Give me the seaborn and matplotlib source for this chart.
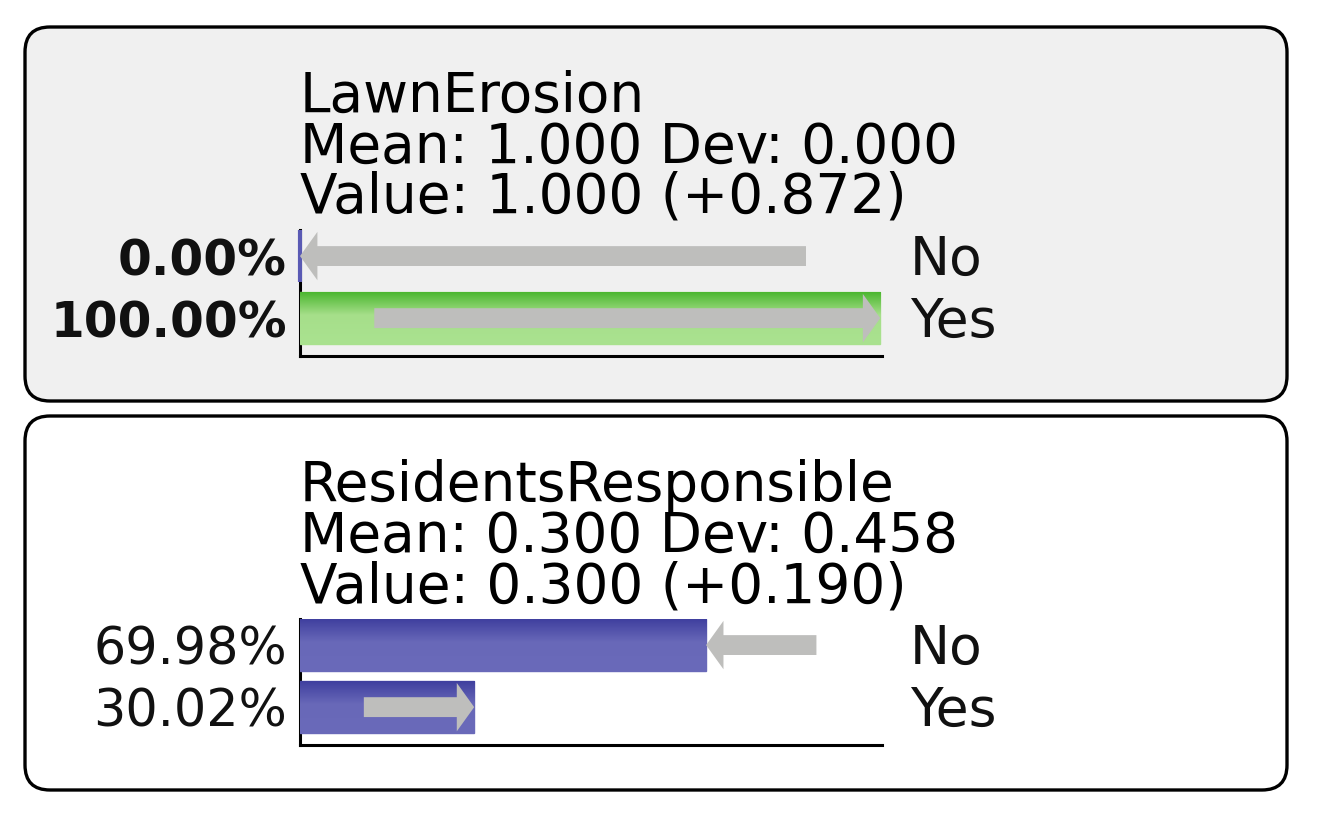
import numpy as np
import pandas as pd
import matplotlib
matplotlib.use("Agg")
import matplotlib.pyplot as plt
from matplotlib.patches import FancyBboxPatch
from matplotlib.colors import LinearSegmentedColormap
import seaborn as sns

# node data
node_names = ["LawnErosion", "ResidentsResponsible"]
states = ["No", "Yes"]
probs = [[0.0, 1.0], [0.6998, 0.3002]]
prev_probs = [[0.872, 0.128], [0.890, 0.110]]
means = [1.000, 0.300]
devs = [0.000, 0.458]
values = [1.000, 0.300]
deltas = [0.872, 0.190]
evidence_state = ["Yes", None]

W, H, DPI = 1317, 817, 100

green = LinearSegmentedColormap.from_list(
    "g", [(0, "#48b52c"), (0.45, "#a6df8a"), (1, "#aae290")])
blue = LinearSegmentedColormap.from_list(
    "b", [(0, "#3e3e9e"), (0.45, "#6868b8"), (1, "#6a6aba")])


def fx(x):
    return x / W


def fy(y):
    return 1 - y / H


def gradient_bars(ax, cmaps):
    grad = np.linspace(0, 1, 100).reshape(-1, 1)
    for p, cmap in zip(ax.patches, cmaps):
        x0, y0 = p.get_x(), p.get_y()
        w, h = p.get_width(), p.get_height()
        p.set_facecolor(cmap(0.6))
        if w < 0.005:
            # empty state still gets a thin stub
            p.set_linewidth(3)
            p.set_edgecolor("#5a5ab4")
            p.set_clip_on(False)
            continue
        p.set_edgecolor(cmap(0.8))
        im = ax.imshow(grad, cmap=cmap, aspect="auto", extent=(x0, x0 + w, y0 + h, y0),
                       zorder=3.1, interpolation="bilinear")
        im.set_clip_path(p)


def draw_node(fig, k, box_top, box_fill):
    box = FancyBboxPatch((0.25, (H - box_top - 374) / DPI), 12.62, 3.74,
                         boxstyle="round,pad=0,rounding_size=0.25",
                         transform=fig.dpi_scale_trans, facecolor=box_fill,
                         edgecolor="black", linewidth=2.4, zorder=0)
    fig.add_artist(box)

    lines = [node_names[k],
             f"Mean: {means[k]:.3f} Dev: {devs[k]:.3f}",
             f"Value: {values[k]:.3f} (+{deltas[k]:.3f})"]
    for j, t in enumerate(lines):
        fig.text(fx(300), fy(box_top + 85 + 50.5 * j), t, fontsize=39.5,
                 ha="left", va="baseline", color="black")

    ax_top = box_top + 203
    ax = fig.add_axes([fx(300), fy(ax_top + 126), fx(582), 126 / H])
    df = pd.DataFrame({"state": states, "prob": probs[k]})
    sns.barplot(data=df, x="prob", y="state", orient="h", ax=ax, width=0.84,
                color="#6868b8", linewidth=1, zorder=3)
    cmaps = [green if st == evidence_state[k] else blue for st in states]
    gradient_bars(ax, cmaps)

    ax.set_xlim(0, 1.003)
    ax.set_ylim(1.61, -0.42)
    ax.set_facecolor("none")
    ax.set_xticks([])
    ax.set_yticks([])
    ax.set_xlabel("")
    ax.set_ylabel("")
    for s in ["top", "right"]:
        ax.spines[s].set_visible(False)
    for s in ["left", "bottom"]:
        ax.spines[s].set_linewidth(2.2)
        ax.spines[s].set_color("black")

    # change arrows (previous -> current belief)
    for i in range(len(states)):
        start, end = prev_probs[k][i], probs[k][i]
        ax.arrow(start, i, end - start, 0, width=0.32, head_width=0.78,
                 head_length=0.03, length_includes_head=True,
                 color="#bebebc", linewidth=0, zorder=4)

    bold = evidence_state[k] is not None
    for i, st in enumerate(states):
        ax.annotate(f"{probs[k][i] * 100:.2f}%", xy=(0, i),
                    xycoords=("axes fraction", "data"), xytext=(-13, -19),
                    textcoords="offset pixels", ha="right", va="baseline",
                    fontsize=35 if bold else 36.5,
                    fontweight="bold" if bold else "normal", color="#111111")
        ax.annotate(st, xy=(1, i), xycoords=("axes fraction", "data"),
                    xytext=(28, -19), textcoords="offset pixels",
                    ha="left", va="baseline", fontsize=38.5, color="#111111")


sns.set_style("white")
plt.rcParams["font.family"] = ["DejaVu Sans"]

fig = plt.figure(figsize=(W / DPI, H / DPI), dpi=DPI)
fig.patch.set_facecolor("white")

draw_node(fig, 0, 27, "#f0f0f0")
draw_node(fig, 1, 416, "#ffffff")

fig.savefig("out.png", dpi=DPI)
